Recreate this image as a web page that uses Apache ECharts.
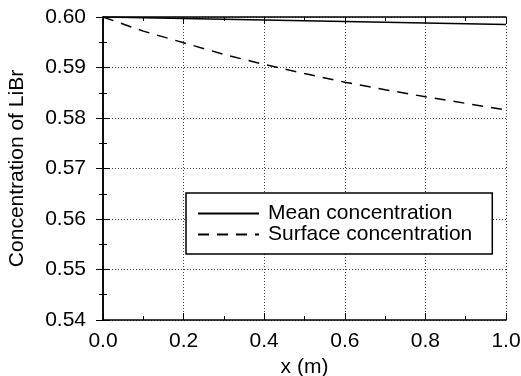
<!DOCTYPE html>
<html><head><meta charset="utf-8">
<script src="https://cdn.jsdelivr.net/npm/echarts@6/dist/echarts.min.js"></script>
<style>html,body{margin:0;padding:0;background:#fff}#c{width:521px;height:376px}</style>
</head><body><div id="c"></div>
<script>
const xValues = [0.0, 0.1, 0.2, 0.3, 0.4, 0.5, 0.6, 0.7, 0.8, 0.9, 1.0];
const meanConc = [0.6000, 0.59985, 0.5997, 0.59955, 0.5994, 0.59925, 0.5991, 0.59895, 0.5988, 0.59865, 0.5985];
const surfaceConc = [0.6000, 0.5972, 0.5949, 0.5926, 0.5906, 0.5888, 0.5871, 0.5856, 0.5842, 0.5829, 0.5816];
const seriesNames = ['Mean concentration', 'Surface concentration'];

const FONT = 'Liberation Sans, Arial, sans-serif';
const chart = echarts.init(document.getElementById('c'));
const axisCommon = {
  axisLine: {show: true, lineStyle: {color: '#000', width: 1.5}},
  axisTick: {show: true, inside: true, length: 7, lineStyle: {color: '#000', width: 1}},
  minorTick: {show: true, splitNumber: 2, length: 4, lineStyle: {color: '#000'}},
};
chart.setOption({
  animation: false,
  grid: {left: 103, right: 15, top: 17, bottom: 56, show: false, containLabel: false, outerBoundsMode: 'none'},
  legend: {
    orient: 'vertical', left: 186, top: 193,
    itemWidth: 61, itemHeight: 10, itemGap: 0,
    padding: [10, 20, 9, 11],
    borderColor: '#000', borderWidth: 1.5, backgroundColor: '#fff',
    itemStyle: {opacity: 0},
    textStyle: {fontFamily: FONT, fontSize: 21, color: '#000', lineHeight: 19, padding: [0, 0, 0, 4]},
    data: seriesNames
  },
  xAxis: [
    Object.assign({
      type: 'value', min: 0, max: 1, interval: 0.2,
      name: 'x (m)', nameLocation: 'middle', nameGap: 37,
      nameTextStyle: {fontFamily: FONT, fontSize: 21, color: '#000'},
      axisLabel: {fontFamily: FONT, fontSize: 21, color: '#000', margin: 11, formatter: v => v.toFixed(1)},
      splitLine: {show: true, lineStyle: {color: '#444', type: [1, 2], width: 1}}
    }, axisCommon),
    Object.assign({
      type: 'value', min: 0, max: 1, interval: 0.2, position: 'top',
      axisLabel: {show: false}, splitLine: {show: false}
    }, axisCommon)
  ],
  yAxis: [
    Object.assign({
      type: 'value', min: 0.54, max: 0.60, interval: 0.01,
      name: 'Concentration of LiBr', nameLocation: 'middle', nameGap: 75,
      nameTextStyle: {fontFamily: FONT, fontSize: 21, color: '#000'},
      axisLabel: {fontFamily: FONT, fontSize: 21, color: '#000', margin: 17, formatter: v => v.toFixed(2)},
      splitLine: {show: true, lineStyle: {color: '#444', type: [1, 2], width: 1}}
    }, axisCommon),
    Object.assign({
      type: 'value', min: 0.54, max: 0.60, interval: 0.01, position: 'right',
      axisLabel: {show: false}, splitLine: {show: false}
    }, axisCommon)
  ],
  series: [
    {name: seriesNames[0], type: 'line', showSymbol: false, symbol: 'none',
     data: xValues.map((x, i) => [x, meanConc[i]]),
     lineStyle: {color: '#000', width: 1.5, type: 'solid'}, itemStyle: {color: '#000'}},
    {name: seriesNames[1], type: 'line', showSymbol: false, symbol: 'none',
     data: xValues.map((x, i) => [x, surfaceConc[i]]),
     lineStyle: {color: '#000', width: 1.5, type: [11, 8]}, itemStyle: {color: '#000'}}
  ]
});
</script></body></html>
